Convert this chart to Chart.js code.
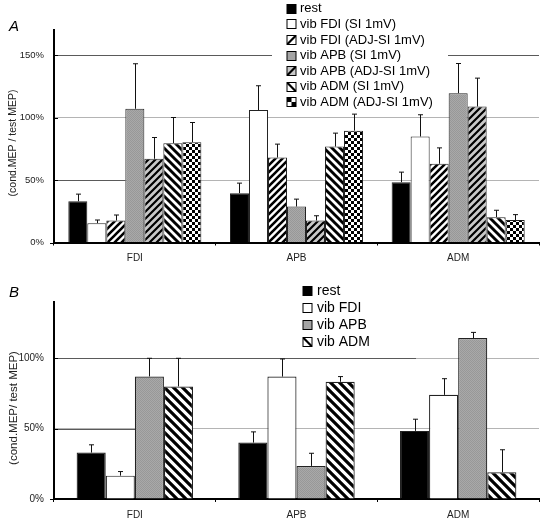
<!DOCTYPE html>
<html><head><meta charset="utf-8">
<script src="https://cdn.jsdelivr.net/npm/chart.js@4.4.1/dist/chart.umd.min.js"></script>
<style>
html,body{margin:0;padding:0;background:#fff;width:543px;height:524px;overflow:hidden;}
#wa{position:absolute;left:0;top:0;width:543px;height:268px;}
#wb{position:absolute;left:0;top:268px;width:543px;height:256px;}
</style></head><body>
<div id="wa"><canvas id="ca"></canvas></div>
<div id="wb"><canvas id="cb"></canvas></div>
<script>
// ---------- DATA ----------
const categories = ['FDI', 'APB', 'ADM'];
const yTicks = [0, 50, 100, 150];

// Panel A : series names
const seriesA = ['rest', 'vib FDI (SI 1mV)', 'vib FDI (ADJ-SI 1mV)', 'vib APB (SI 1mV)',
                 'vib APB (ADJ-SI 1mV)', 'vib ADM (SI 1mV)', 'vib ADM (ADJ-SI 1mV)'];
// Panel A : means (%) per muscle FDI, APB, ADM
const A_rest        = [33.0, 39.5, 48.3];
const A_vibFDI_SI   = [15.5, 106.0, 84.8];
const A_vibFDI_ADJ  = [17.6, 68.0, 63.0];
const A_vibAPB_SI   = [107.0, 28.8, 119.5];
const A_vibAPB_ADJ  = [67.0, 17.6, 108.8];
const A_vibADM_SI   = [79.5, 76.8, 20.3];
const A_vibADM_ADJ  = [80.3, 89.5, 18.0];
// Panel A : error (SEM, upward only)
const A_rest_err       = [5.7, 8.0, 8.0];
const A_vibFDI_SI_err  = [2.5, 19.4, 17.4];
const A_vibFDI_ADJ_err = [4.4, 10.7, 12.7];
const A_vibAPB_SI_err  = [36.0, 5.9, 23.7];
const A_vibAPB_ADJ_err = [17.0, 3.8, 22.7];
const A_vibADM_SI_err  = [20.5, 10.7, 5.5];
const A_vibADM_ADJ_err = [15.7, 13.2, 4.3];

// Panel B
const seriesB = ['rest', 'vib FDI', 'vib APB', 'vib ADM'];
const B_rest   = [33.0, 40.1, 48.4];
const B_vibFDI = [16.6, 87.0, 74.0];
const B_vibAPB = [87.1, 23.5, 114.4];
const B_vibADM = [80.0, 83.3, 19.0];
const B_rest_err   = [5.5, 7.6, 8.3];
const B_vibFDI_err = [2.9, 12.5, 11.5];
const B_vibAPB_err = [12.9, 9.0, 4.0];
const B_vibADM_err = [20.0, 3.7, 16.0];

// ---------- STYLES ----------
const FONT = "'Liberation Sans', Arial, Helvetica, sans-serif";

function stripePattern(dir, size, lw, fg, bg) {
  const c = document.createElement('canvas');
  c.width = size; c.height = size;
  const g = c.getContext('2d');
  g.fillStyle = bg; g.fillRect(0, 0, size, size);
  g.strokeStyle = fg; g.lineWidth = lw;
  g.beginPath();
  for (let k = -1; k <= 2; k++) {
    if (dir === '/') {
      g.moveTo(k * size + 2, -2); g.lineTo(k * size - size - 2, size + 2);
    } else {
      g.moveTo(k * size - 2, -2); g.lineTo(k * size + size + 2, size + 2);
    }
  }
  g.stroke();
  return g.createPattern(c, 'repeat');
}
function checkerPattern(s) {
  const c = document.createElement('canvas');
  c.width = 2 * s; c.height = 2 * s;
  const g = c.getContext('2d');
  g.fillStyle = '#fff'; g.fillRect(0, 0, 2 * s, 2 * s);
  g.fillStyle = '#000'; g.fillRect(0, 0, s, s); g.fillRect(s, s, s, s);
  return g.createPattern(c, 'repeat');
}
function stipplePattern() {
  const c = document.createElement('canvas');
  c.width = 2; c.height = 2;
  const g = c.getContext('2d');
  g.fillStyle = '#a9a9a9'; g.fillRect(0, 0, 2, 2);
  g.fillStyle = '#989898'; g.fillRect(0, 0, 1, 1); g.fillRect(1, 1, 1, 1);
  return g.createPattern(c, 'repeat');
}

const STY = {
  rest:    { fill: '#000', sw: { type: 'solid', color: '#000' } },
  white:   { fill: '#fff', sw: { type: 'solid', color: '#fff' } },
  fdiAdj:  { fill: stripePattern('/', 7, 2.6, '#000', '#fff'), sw: { type: 'stripe', dir: '/', bg: '#fff' } },
  gray:    { fill: stipplePattern(), sw: { type: 'solid', color: '#a4a4a4' } },
  apbAdj:  { fill: stripePattern('/', 7, 2.2, '#000', '#c9c9c9'), sw: { type: 'stripe', dir: '/', bg: '#c9c9c9' } },
  admSI:   { fill: stripePattern('\\', 8, 2.9, '#000', '#fff'), sw: { type: 'stripe', dir: '\\', bg: '#fff' } },
  admAdj:  { fill: checkerPattern(3), sw: { type: 'checker' } },
  admB:    { fill: stripePattern('\\', 9, 3.2, '#000', '#fff'), sw: { type: 'stripe', dir: '\\', bg: '#fff' } }
};

function ds(label, data, err, st, bw) {
  return { label: label, data: data, err: err, sw: st.sw,
           backgroundColor: st.fill, borderColor: '#222', borderWidth: bw,
           barPercentage: 1.0 };
}

// ---------- PLUGINS ----------
const errorBars = {
  id: 'errorBars',
  afterDatasetsDraw(chart) {
    const ctx = chart.ctx, ys = chart.scales.y;
    ctx.save();
    ctx.strokeStyle = '#111'; ctx.lineWidth = 1;
    chart.data.datasets.forEach((d, i) => {
      const meta = chart.getDatasetMeta(i);
      meta.data.forEach((el, j) => {
        const x = Math.round(el.x) + 0.5;
        const yTop = ys.getPixelForValue(d.data[j] + d.err[j]);
        ctx.beginPath();
        ctx.moveTo(x, el.y); ctx.lineTo(x, yTop);
        ctx.moveTo(x - 2.5, yTop); ctx.lineTo(x + 2.5, yTop);
        ctx.stroke();
      });
    });
    ctx.restore();
  }
};

const decor = {
  id: 'decor',
  beforeDatasetsDraw(chart, args, o) {
    const ctx = chart.ctx, ys = chart.scales.y, ca = chart.chartArea;
    ctx.save();
    ctx.strokeStyle = '#5a5a5a'; ctx.lineWidth = 1;
    (o.darkLines || []).forEach(s => {
      const y = Math.round(ys.getPixelForValue(s.v)) + 0.5;
      ctx.beginPath(); ctx.moveTo(ca.left, y); ctx.lineTo(s.x2, y); ctx.stroke();
    });
    // small y tick marks
    ctx.strokeStyle = '#000';
    ys.ticks.forEach(t => {
      const y = Math.round(ys.getPixelForValue(t.value)) + 0.5;
      ctx.beginPath();
      if (t.value === 0) { ctx.moveTo(ca.left - 4, y); ctx.lineTo(ca.left, y); }
      else { ctx.moveTo(ca.left, y); ctx.lineTo(ca.left + 4, y); }
      ctx.stroke();
    });
    ctx.restore();
  },
  afterDraw(chart, args, o) {
    const ctx = chart.ctx;
    ctx.save();
    // panel letter
    ctx.fillStyle = '#000';
    ctx.font = 'italic 15px ' + FONT;
    ctx.textBaseline = 'middle'; ctx.textAlign = 'left';
    ctx.fillText(o.letter, o.letterX, o.letterY);
    // y title
    ctx.save();
    ctx.translate(o.titleX, o.titleY);
    ctx.rotate(-Math.PI / 2);
    ctx.font = o.titleSize + 'px ' + FONT;
    ctx.textAlign = 'center'; ctx.textBaseline = 'middle';
    ctx.fillStyle = '#222';
    ctx.fillText(o.title, 0, 0);
    ctx.restore();
    // legend
    const L = o.legend;
    if (L.box) { ctx.fillStyle = '#fff'; ctx.fillRect(L.box[0], L.box[1], L.box[2], L.box[3]); }
    ctx.font = L.size + 'px ' + FONT;
    ctx.textBaseline = 'middle'; ctx.textAlign = 'left';
    chart.data.datasets.forEach((d, i) => {
      const cy = L.y0 + i * L.dy;
      const s = L.sq, x = L.x, y = Math.round(cy - s / 2) + 0.5;
      const sw = d.sw;
      ctx.save();
      ctx.beginPath(); ctx.rect(x, y, s, s); ctx.clip();
      if (sw.type === 'solid') { ctx.fillStyle = sw.color; ctx.fillRect(x, y, s, s); }
      else if (sw.type === 'stripe') {
        ctx.fillStyle = sw.bg; ctx.fillRect(x, y, s, s);
        ctx.strokeStyle = '#000'; ctx.lineWidth = 2.2;
        ctx.beginPath();
        if (sw.dir === '/') { ctx.moveTo(x, y + s); ctx.lineTo(x + s, y); }
        else { ctx.moveTo(x, y); ctx.lineTo(x + s, y + s); }
        ctx.stroke();
      } else {
        ctx.fillStyle = '#fff'; ctx.fillRect(x, y, s, s);
        ctx.fillStyle = '#000';
        ctx.fillRect(x, y, s / 2, s / 2); ctx.fillRect(x + s / 2, y + s / 2, s / 2, s / 2);
      }
      ctx.restore();
      ctx.strokeStyle = '#000'; ctx.lineWidth = 1;
      ctx.strokeRect(x, y, s, s);
      ctx.fillStyle = '#000';
      ctx.fillText(d.label, L.tx, cy + 0.5);
    });
    ctx.restore();
  }
};

function makeOptions(cfg) {
  return {
    responsive: false, animation: false, maintainAspectRatio: false,
    layout: { padding: { left: 0, right: 4, top: cfg.padTop, bottom: 0 } },
    plugins: { legend: { display: false }, tooltip: { enabled: false }, decor: cfg.decor },
    scales: {
      x: {
        type: 'category', offset: true,
        grid: { drawOnChartArea: false, drawTicks: true, tickLength: 3, color: '#000', offset: true },
        border: { color: '#000', width: 2 },
        ticks: { font: { family: FONT, size: 10 }, color: '#222', padding: cfg.xPad, maxRotation: 0 },
        afterFit: s => { s.height = cfg.xH; }
      },
      y: {
        min: 0, max: cfg.max,
        afterBuildTicks: s => { s.ticks = yTicks.filter(v => v <= cfg.max).map(v => ({ value: v })); },
        grid: { drawTicks: false, color: c => (c.tick && c.tick.value === 0) ? 'rgba(0,0,0,0)' : '#b4b4b4', lineWidth: 1 },
        border: { color: '#000', width: 2 },
        ticks: { font: { family: FONT, size: cfg.yFont }, color: '#222', padding: 10, callback: v => v + '%' },
        afterFit: s => { s.width = 54; }
      }
    }
  };
}

// ---------- CHART A ----------
const cA = document.getElementById('ca');
cA.width = 543; cA.height = 268;
new Chart(cA, {
  type: 'bar',
  data: {
    labels: categories,
    datasets: [
      ds(seriesA[0], A_rest, A_rest_err, STY.rest, 1),
      ds(seriesA[1], A_vibFDI_SI, A_vibFDI_SI_err, STY.white, 1),
      ds(seriesA[2], A_vibFDI_ADJ, A_vibFDI_ADJ_err, STY.fdiAdj, 1),
      ds(seriesA[3], A_vibAPB_SI, A_vibAPB_SI_err, STY.gray, 1),
      ds(seriesA[4], A_vibAPB_ADJ, A_vibAPB_ADJ_err, STY.apbAdj, 1),
      ds(seriesA[5], A_vibADM_SI, A_vibADM_SI_err, STY.admSI, 1),
      ds(seriesA[6], A_vibADM_ADJ, A_vibADM_ADJ_err, STY.admAdj, 1)
    ].map(d => Object.assign(d, { categoryPercentage: 0.823 }))
  },
  options: makeOptions({
    padTop: 30, max: 170, xH: 25.5, xPad: 6.5, yFont: 9.5,
    decor: {
      letter: 'A', letterX: 9, letterY: 27,
      title: '(cond.MEP / test MEP)', titleX: 13, titleY: 143, titleSize: 10.5,
      darkLines: [{ v: 150, x2: 539 }, { v: 50, x2: 125 }],
      legend: { box: [272, 0, 176, 110], x: 287, tx: 300, y0: 8.3, dy: 15.6, sq: 9, size: 13 }
    }
  }),
  plugins: [errorBars, decor]
});

// ---------- CHART B ----------
const cB = document.getElementById('cb');
cB.width = 543; cB.height = 256;
new Chart(cB, {
  type: 'bar',
  data: {
    labels: categories,
    datasets: [
      ds(seriesB[0], B_rest, B_rest_err, STY.rest, 1.2),
      ds(seriesB[1], B_vibFDI, B_vibFDI_err, STY.white, 1.2),
      ds(seriesB[2], B_vibAPB, B_vibAPB_err, STY.gray, 1.2),
      ds(seriesB[3], B_vibADM, B_vibADM_err, STY.admB, 1.2)
    ].map(d => Object.assign(d, { categoryPercentage: 0.72 }))
  },
  options: makeOptions({
    padTop: 34, max: 140, xH: 25, xPad: 7, yFont: 10,
    decor: {
      letter: 'B', letterX: 9, letterY: 25,
      title: '(cond.MEP/ test MEP)', titleX: 14, titleY: 140, titleSize: 11.5,
      darkLines: [{ v: 100, x2: 416 }, { v: 50, x2: 135 }],
      legend: { box: null, x: 303, tx: 317, y0: 22.7, dy: 17, sq: 9, size: 14 }
    }
  }),
  plugins: [errorBars, decor]
});
</script>
</body></html>
